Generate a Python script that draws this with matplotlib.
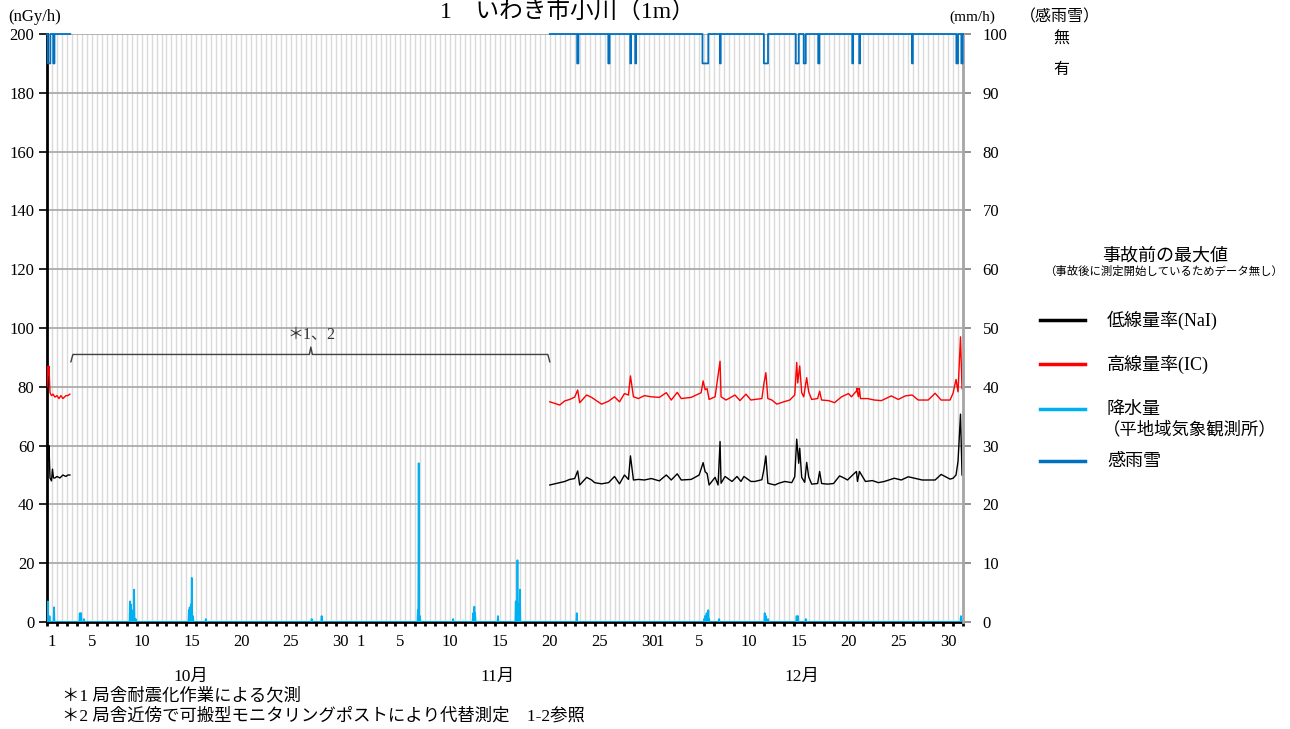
import numpy as np
import matplotlib
matplotlib.use("Agg")
import matplotlib.pyplot as plt
from matplotlib.lines import Line2D

FONT = ['Liberation Serif', 'Noto Sans CJK JP']
plt.rcParams['font.family'] = FONT

# ---------------- data (x = days since Oct 1 00:00) ----------------
GAP_START = 2.3   # end of first measured period
GAP_END = 50.5    # resume of measurement (Nov 20 noon)
N_DAYS = 92

nai_d = [0.0, 0.1, 0.15, 0.2, 0.3, 0.45, 0.55, 0.65, 0.8, 1.0, 1.3, 1.6, 1.9, 2.1, 2.3,
         50.5, 51.0, 51.5, 52.0, 52.5, 53.0, 53.3, 53.5, 54.2, 54.7, 55.0, 55.7, 56.4, 57.0,
         57.5, 58.0, 58.4, 58.6, 58.9, 59.4, 60.0, 60.7, 61.5, 62.2, 62.7, 63.3, 63.7, 64.7,
         65.5, 65.9, 66.1, 66.3, 66.5, 67.1, 67.4, 67.6, 67.7, 68.1, 68.8, 69.3, 69.7, 70.0,
         70.7, 71.1, 71.8, 72.0, 72.2, 72.4, 73.1, 73.5, 74.1, 74.8, 75.1, 75.3, 75.5, 75.6,
         75.8, 76.1, 76.3, 76.5, 76.8, 77.4, 77.6, 77.8, 78.4, 79.0, 79.6, 80.1, 80.4, 81.1,
         81.3, 81.4, 81.6, 82.2, 82.9, 83.5, 84.1, 85.1, 85.8, 86.5, 87.9, 89.2, 89.8, 90.7,
         91.0, 91.3, 91.5, 91.75, 91.9]
nai_v = [50, 58, 55, 60, 49, 48, 52, 49, 49, 49.5, 49, 50, 49.5, 50, 50,
         46.6, 47.0, 47.4, 47.8, 48.5, 48.8, 51.4, 46.6, 49.2, 48.3, 47.4, 47.0, 47.4, 49.5,
         47.0, 50.0, 48.5, 56.5, 48.3, 48.5, 48.3, 48.8, 48.0, 50.0, 48.3, 50.4, 48.3, 48.5,
         50.0, 54.2, 51.1, 50.5, 46.6, 49.2, 46.6, 61.4, 47.2, 49.5, 47.8, 49.5, 47.8, 49.5,
         47.8, 47.8, 48.4, 51.8, 56.5, 47.2, 46.6, 47.2, 47.8, 47.4, 49.4, 62.2, 54.0, 59.1,
         49.2, 47.5, 54.3, 49.4, 46.9, 47.1, 51.2, 47.1, 46.9, 47.1, 49.7, 48.9, 48.3, 50.6,
         51.2, 47.8, 51.2, 47.8, 48.1, 47.4, 47.8, 48.9, 48.3, 49.4, 48.3, 48.3, 50.2, 48.6,
         48.9, 50.0, 54.6, 70.7, 50.0]

ic_d = [0.0, 0.1, 0.15, 0.2, 0.3, 0.45, 0.6, 0.8, 1.0, 1.2, 1.4, 1.6, 1.9, 2.1, 2.3,
        50.5, 51.5, 52.0, 52.5, 53.0, 53.3, 53.5, 54.2, 54.7, 55.0, 55.7, 56.4, 57.0, 57.5,
        58.0, 58.4, 58.6, 58.9, 59.4, 60.0, 60.7, 61.5, 62.2, 62.7, 63.3, 63.7, 64.7, 65.7,
        65.9, 66.1, 66.3, 66.5, 67.1, 67.6, 67.7, 68.2, 69.1, 69.6, 70.2, 70.7, 71.1, 71.8,
        72.0, 72.2, 72.4, 72.8, 73.3, 74.0, 74.6, 75.1, 75.3, 75.4, 75.6, 75.8, 76.0, 76.3,
        76.5, 76.8, 77.4, 77.6, 77.8, 78.5, 79.1, 79.8, 80.5, 80.8, 81.5, 81.3, 81.5, 81.6,
        81.7, 82.4, 83.1, 83.8, 84.8, 85.5, 86.2, 86.9, 87.5, 88.5, 89.2, 89.8, 90.7, 91.0,
        91.3, 91.5, 91.75, 91.9]
ic_v = [80, 87, 84, 87, 78, 77, 77.5, 76.5, 77, 76, 77, 76, 77, 77, 77.5,
        74.9, 73.8, 75.2, 75.7, 76.5, 78.9, 74.6, 77.2, 76.4, 75.7, 74.1, 75.1, 76.6, 74.9,
        77.7, 77.2, 83.7, 76.6, 76.0, 77.0, 76.6, 76.4, 78.0, 75.5, 78.1, 76.0, 76.4, 78.0,
        82.0, 79.0, 79.4, 75.7, 76.6, 88.7, 76.6, 75.5, 77.2, 75.3, 77.5, 75.5, 75.7, 76.0,
        81.0, 84.8, 76.0, 75.5, 74.1, 74.9, 75.5, 77.2, 88.3, 81.3, 87.1, 78.0, 76.6, 83.1,
        78.3, 75.7, 76.0, 78.5, 75.5, 75.3, 74.6, 76.6, 77.7, 76.6, 79.4, 79.4, 76.6, 79.4,
        76.0, 76.0, 75.5, 75.3, 76.9, 75.7, 76.9, 77.2, 75.5, 75.5, 77.8, 75.5, 75.5, 77.8,
        82.5, 78.3, 97.0, 79.4]

# precipitation (mm/h), hourly events
rain_d = [0.1, 0.25, 0.7, 3.3, 3.4, 3.7, 8.33, 8.43, 8.55, 8.73, 8.9,
          14.25, 14.35, 14.45, 14.55, 14.65, 15.96, 26.6, 27.6, 37.25, 37.35, 37.45,
          40.8, 42.8, 42.9, 43.0, 45.3, 47.1, 47.25, 47.35, 47.5, 53.2,
          66.0, 66.1, 66.25, 66.4, 66.5, 67.5, 72.1, 72.2, 72.4, 75.3, 75.4, 76.2, 91.8]
rain_v = [3.5, 1, 2.5, 1.5, 1.5, 0.5, 3.5, 3, 2, 5.5, 0.5,
          2, 2.5, 3, 7.5, 1, 0.5, 0.5, 1, 2, 27, 1,
          0.5, 1.5, 2.6, 1.5, 1, 3.5, 10.5, 3, 5.5, 1.5,
          0.5, 1, 1.5, 2, 0.5, 0.5, 1.5, 1, 0.5, 1, 1, 0.5, 1]

# rain/snow sensing: periods with "有"
sense_start = [0.05, 0.6, 53.25, 56.35, 58.55, 59.05, 65.8, 67.55, 72.0, 75.2, 76.0,
               77.45, 80.85, 81.55, 86.85, 91.3, 91.8]
sense_end = [0.3, 0.72, 53.35, 56.5, 58.65, 59.15, 66.4, 67.65, 72.4, 75.5, 76.2,
             77.55, 80.95, 81.65, 86.95, 91.5, 91.95]

month_names = ['10月', '11月', '12月']
month_offsets = [0, 31, 61]
month_label_d = [14.4, 45.3, 75.8]
day_labels = [1, 5, 10, 15, 20, 25, 30]

# ---------------- build series ----------------
def with_gap(d, v):
    d = np.asarray(d, float); v = np.asarray(v, float)
    idx = np.searchsorted(d, GAP_END)
    return np.insert(d, idx, np.nan), np.insert(v, idx, np.nan)

nai_x, nai_y = with_gap(nai_d, nai_v)
ic_x, ic_y = with_gap(ic_d, ic_v)

hours = np.arange(N_DAYS * 24 + 1)
hx = hours / 24.0
rain = np.zeros_like(hx)
for d, v in zip(rain_d, rain_v):
    rain[int(round(d * 24))] = v

sense = np.full_like(hx, np.nan)
sense[(hx <= GAP_START) | (hx >= GAP_END)] = 100
for s, e in zip(sense_start, sense_end):
    sense[(hx >= s) & (hx < e)] = 95
sense[(hx > GAP_START) & (hx < GAP_END)] = np.nan

# ---------------- figure ----------------
fig = plt.figure(figsize=(12.9, 7.29), dpi=100)
L, R, B, T = 47 / 1290, 963 / 1290, 1 - 622 / 729, 1 - 34 / 729
ax = fig.add_axes([L, B, R - L, T - B])
ax2 = ax.twinx()

ax.set_xlim(0, N_DAYS)
ax.set_ylim(0, 200)
ax2.set_ylim(0, 100)

# grid
ax.vlines(np.arange(0.5, N_DAYS, 0.5), 0, 200, colors='#dadada', linewidth=1.0, zorder=0)
ax.set_yticks(np.arange(0, 201, 20))
ax.yaxis.grid(True, color='#a6a6a6', linewidth=1.2, zorder=0.5)
ax.set_axisbelow(True)

# dose lines
ax.plot(nai_x, nai_y, color='black', linewidth=1.0, zorder=3)
ax.plot(ic_x, ic_y, color='#ff0000', linewidth=1.0, zorder=3)

# precipitation and rain sensing on right axis
ax2.plot(hx, rain, color='#00b0f0', linewidth=1.3, zorder=3)
ax2.plot(hx, sense, color='#0070c0', linewidth=1.3, drawstyle='steps-post', zorder=3,
         clip_on=False)

# x ticks
major = []
labels = []
for off in month_offsets:
    for dday in day_labels:
        major.append(off + dday - 0.5)
        labels.append(str(dday))
ax.set_xticks(major)
ax.set_xticklabels(labels, fontsize=12)
ax.set_xticks(np.arange(0, N_DAYS + 1, 1), minor=True)
ax.tick_params(axis='x', which='major', length=0, pad=9)
ax.tick_params(axis='x', which='minor', length=3, width=2, color='black', direction='out')

ax.set_yticklabels([str(v) for v in range(0, 201, 20)], fontsize=12)
ax.tick_params(axis='y', length=6, width=1.2, color='black', pad=3)
ax2.set_yticks(np.arange(0, 101, 10))
ax2.set_yticklabels([str(v) for v in range(0, 101, 10)], fontsize=12)
ax2.tick_params(axis='y', length=6, width=1.2, color='#808080', pad=8)

for sp in ['top']:
    ax.spines[sp].set_visible(False)
    ax2.spines[sp].set_visible(False)
ax.spines['left'].set_linewidth(2)
ax.spines['left'].set_color('black')
ax.spines['bottom'].set_linewidth(2)
ax.spines['bottom'].set_color('black')
ax2.spines['right'].set_linewidth(2)
ax2.spines['right'].set_color('#a6a6a6')
ax2.spines['left'].set_visible(False)
ax2.spines['bottom'].set_visible(False)

# month labels
for name, d in zip(month_names, month_label_d):
    ax.text(d, -0.094, name, transform=ax.get_xaxis_transform(), ha='center', va='center',
            fontsize=12.5)

# bracket annotation for missing period
bx0, bx1, bmid = 2.4, GAP_END, 26.5
by = 91.0
ax.plot([bx0, bx0 + 0.2, bmid - 0.15, bmid, bmid + 0.15, bx1 - 0.2, bx1],
        [88.5, by, by, 93.5, by, by, 88.5], color='#404040', linewidth=1.0, zorder=4)
ax.text(bmid + 0.1, 97.5, '＊1、2', ha='center', va='center', fontsize=11.5, color='#333333')

# header texts
fig.text(567 / 1290, 1 - 11 / 729, '1\u3000いわき市小川（1m）', ha='center', va='center', fontsize=17)
fig.text(8 / 1290, 1 - 17 / 729, '(nGy/h)', ha='left', va='center', fontsize=12)
fig.text(972 / 1290, 1 - 17 / 729, '(mm/h)', ha='center', va='center', fontsize=11)
fig.text(1060 / 1290, 1 - 17 / 729, '（感雨雪）', ha='center', va='center', fontsize=11.5)
fig.text(1061 / 1290, 1 - 40 / 729, '無', ha='center', va='center', fontsize=11.5)
fig.text(1061 / 1290, 1 - 70 / 729, '有', ha='center', va='center', fontsize=11.5)

# legend (manual)
fig.text(1165 / 1290, 1 - 256 / 729, '事故前の最大値', ha='center', va='center', fontsize=13)
fig.text(1164 / 1290, 1 - 271 / 729, '（事故後に測定開始しているためデータ無し）', ha='center',
         va='center', fontsize=8.2)
leg_items = [('低線量率(NaI)', 'black', 320), ('高線量率(IC)', '#ff0000', 364),
             ('降水量', '#00b0f0', 409), ('感雨雪', '#0070c0', 461)]
for text, col, yp in leg_items:
    yf = 1 - yp / 729
    fig.add_artist(Line2D([1040 / 1290, 1085 / 1290], [yf, yf], color=col, linewidth=2.5))
    fig.text(1107 / 1290, yf, text, ha='left', va='center', fontsize=13)
fig.text(1103 / 1290, 1 - 430 / 729, '（平地域気象観測所）', ha='left', va='center', fontsize=12.5)

# footnotes
fig.text(62 / 1290, 1 - 696 / 729, '＊1 局舎耐震化作業による欠測', ha='left', va='center', fontsize=12.5)
fig.text(62 / 1290, 1 - 716 / 729, '＊2 局舎近傍で可搬型モニタリングポストにより代替測定\u30001-2参照',
         ha='left', va='center', fontsize=12.5)

fig.savefig('out.png', dpi=100)
